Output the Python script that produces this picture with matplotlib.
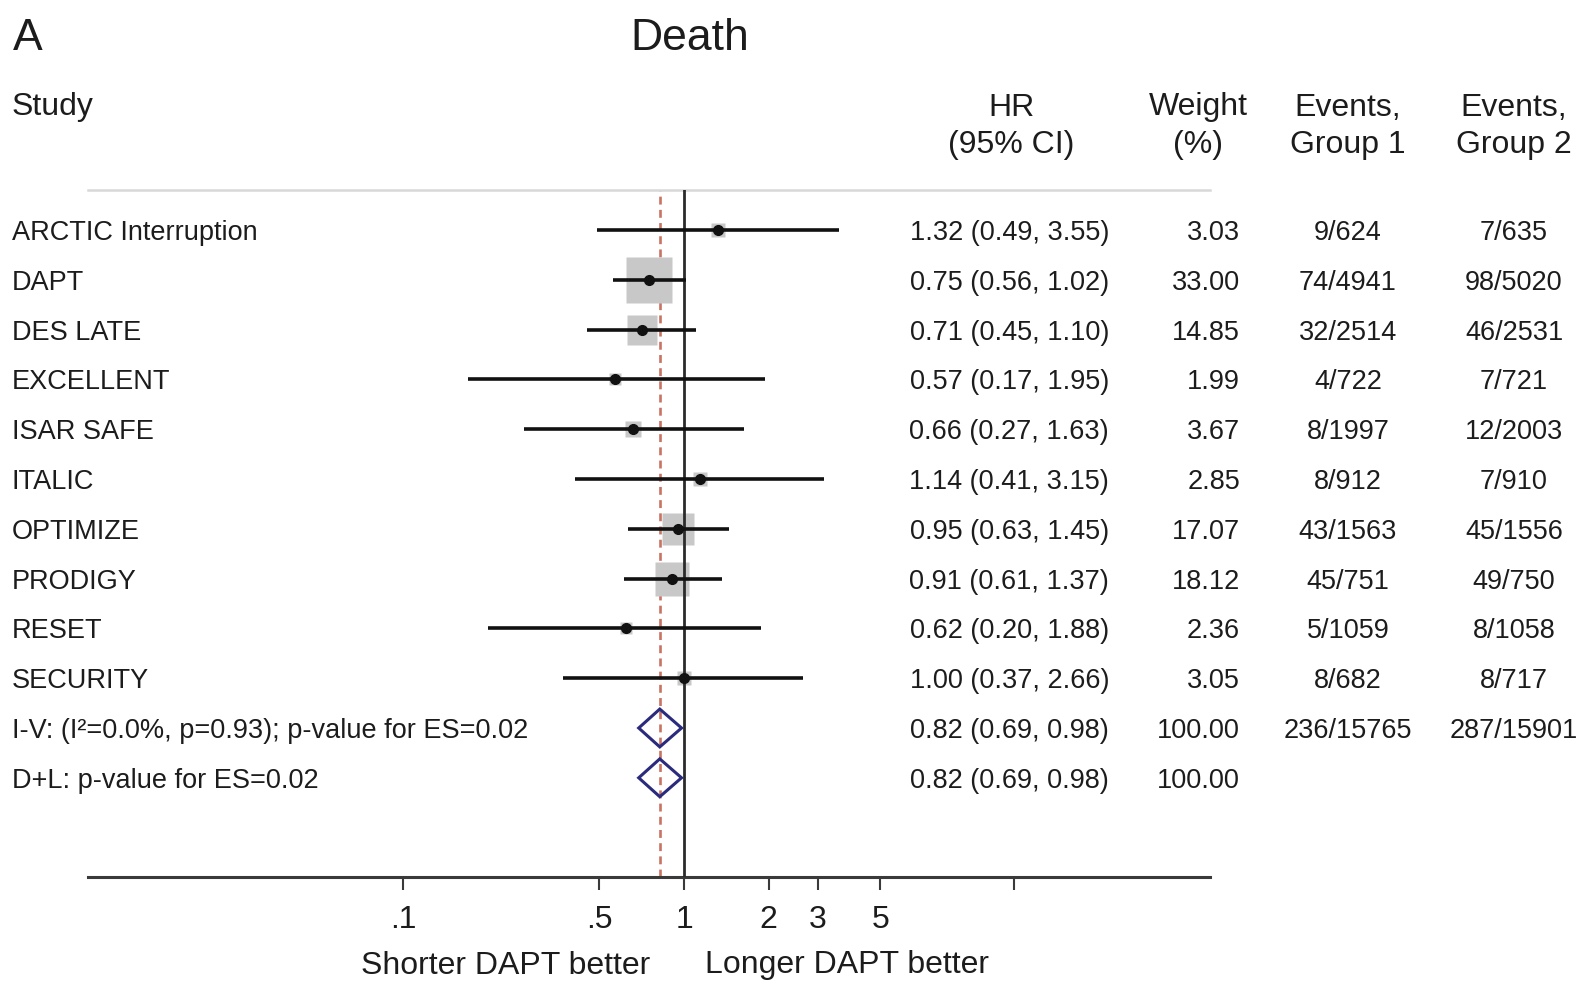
import numpy as np
import matplotlib.pyplot as plt
import matplotlib.transforms as mtransforms
from matplotlib.patches import Polygon

plt.rcParams["font.family"] = ["Liberation Sans", "DejaVu Sans"]

W, H = 1581, 984

studies = [
    "ARCTIC Interruption", "DAPT", "DES LATE", "EXCELLENT", "ISAR SAFE",
    "ITALIC", "OPTIMIZE", "PRODIGY", "RESET", "SECURITY",
]
hr = [1.32, 0.75, 0.71, 0.57, 0.66, 1.14, 0.95, 0.91, 0.62, 1.00]
ci_low = [0.49, 0.56, 0.45, 0.17, 0.27, 0.41, 0.63, 0.61, 0.20, 0.37]
ci_high = [3.55, 1.02, 1.10, 1.95, 1.63, 3.15, 1.45, 1.37, 1.88, 2.66]
weights = [3.03, 33.00, 14.85, 1.99, 3.67, 2.85, 17.07, 18.12, 2.36, 3.05]
events_g1 = ["9/624", "74/4941", "32/2514", "4/722", "8/1997",
             "8/912", "43/1563", "45/751", "5/1059", "8/682"]
events_g2 = ["7/635", "98/5020", "46/2531", "7/721", "12/2003",
             "7/910", "45/1556", "49/750", "8/1058", "8/717"]

pooled_labels = ["I-V: (I\u00b2=0.0%, p=0.93); p-value for ES=0.02",
                 "D+L: p-value for ES=0.02"]
pooled_hr = [0.82, 0.82]
pooled_low = [0.69, 0.69]
pooled_high = [0.98, 0.98]
pooled_weight = [100.00, 100.00]
pooled_g1 = ["236/15765", ""]
pooled_g2 = ["287/15901", ""]

tick_vals = [0.1, 0.5, 1, 2, 3, 5, 15]
tick_labels = [".1", ".5", "1", "2", "3", "5", ""]

TXT = "#1c1c1c"


def fx(px):
    return px / W


def fy(py):
    return 1 - py / H


fig = plt.figure(figsize=(W / 100, H / 100), dpi=100)
ax = fig.add_axes([fx(88), fy(877), (1210 - 88) / W, (877 - 190) / H])

ax.set_xscale("log")
ax.set_xlim(10 ** ((88 - 684) / 281), 10 ** ((1210 - 684) / 281))
row_h = 49.8
ax.set_ylim((877 - 230) / row_h, (190 - 230) / row_h)
ax.set_yticks([])

# reference lines
ax.axvline(0.82, color="#C97463", lw=1.9, ls=(0, (3.0, 2.0)), zorder=1)
ax.axvline(1, color="#2b2b2b", lw=2.0, zorder=3)

# studies
ypos = np.arange(len(studies))
sides = [45.5 * np.sqrt(w / 33.0) * 0.72 for w in weights]
for y, h, lo, hi, s in zip(ypos, hr, ci_low, ci_high, sides):
    ax.plot([h], [y], marker="s", ms=s, color="#C8C8C8", mec="none", zorder=2)
    ax.plot([lo, hi], [y, y], color="#111111", lw=2.6, solid_capstyle="butt", zorder=4)
    ax.plot([h], [y], marker="o", ms=7, color="#111111", zorder=5)

# pooled diamonds
for i, (h, lo, hi) in enumerate(zip(pooled_hr, pooled_low, pooled_high)):
    y = len(studies) + i
    d = 0.38
    diamond = Polygon([[lo, y], [h, y - d], [hi, y], [h, y + d]], closed=True,
                      fill=False, edgecolor="#2B2B7E", lw=2.2, zorder=6)
    ax.add_patch(diamond)

# axis styling
for side in ["left", "right"]:
    ax.spines[side].set_visible(False)
ax.spines["top"].set_color("#D8D8D8")
ax.spines["top"].set_linewidth(1.8)
ax.spines["bottom"].set_color("#3a3a3a")
ax.spines["bottom"].set_linewidth(2.2)
ax.set_xticks(tick_vals)
ax.set_xticklabels(tick_labels)
ax.xaxis.set_minor_locator(plt.NullLocator())
ax.tick_params(axis="x", length=9.5, width=1.5, color="#3a3a3a", pad=11,
               labelsize=23, labelcolor=TXT)

# table text
tr = mtransforms.blended_transform_factory(fig.transFigure, ax.transData)
row_fs = 19.5
all_labels = studies + pooled_labels
all_hr = hr + pooled_hr
all_lo = ci_low + pooled_low
all_hi = ci_high + pooled_high
all_w = weights + pooled_weight
all_g1 = events_g1 + pooled_g1
all_g2 = events_g2 + pooled_g2
for y, (lab, h, lo, hi, w, g1, g2) in enumerate(
        zip(all_labels, all_hr, all_lo, all_hi, all_w, all_g1, all_g2)):
    kw = dict(transform=tr, fontsize=row_fs, color=TXT, va="center_baseline", clip_on=False)
    ax.text(fx(12), y, lab, ha="left", **kw)
    ax.text(fx(1109), y, f"{h:.2f} ({lo:.2f}, {hi:.2f})", ha="right", **kw)
    ax.text(fx(1240), y, f"{w:.2f}", ha="right", **kw)
    ax.text(fx(1348), y, g1, ha="center", **kw)
    ax.text(fx(1514), y, g2, ha="center", **kw)

# headers
hkw = dict(fontsize=23, color=TXT, va="center_baseline")
fig.text(fx(12), fy(104), "Study", ha="left", **hkw)
fig.text(fx(1011), fy(104), "HR", ha="center", **hkw)
fig.text(fx(1011), fy(141), "(95% CI)", ha="center", **hkw)
fig.text(fx(1198), fy(104), "Weight", ha="center", **hkw)
fig.text(fx(1198), fy(141), "(%)", ha="center", **hkw)
fig.text(fx(1348), fy(104), "Events,", ha="center", **hkw)
fig.text(fx(1348), fy(141), "Group 1", ha="center", **hkw)
fig.text(fx(1514), fy(104), "Events,", ha="center", **hkw)
fig.text(fx(1514), fy(141), "Group 2", ha="center", **hkw)

fig.text(fx(13), fy(34), "A", ha="left", va="center_baseline", fontsize=32, color=TXT)
fig.text(fx(690), fy(34), "Death", ha="center", va="center_baseline", fontsize=32, color=TXT)

fig.text(fx(506), fy(962), "Shorter DAPT better", ha="center", va="center_baseline",
         fontsize=23, color=TXT)
fig.text(fx(847), fy(962), "Longer DAPT better", ha="center", va="center_baseline",
         fontsize=23, color=TXT)

fig.savefig("out.png", dpi=100, facecolor="white")
